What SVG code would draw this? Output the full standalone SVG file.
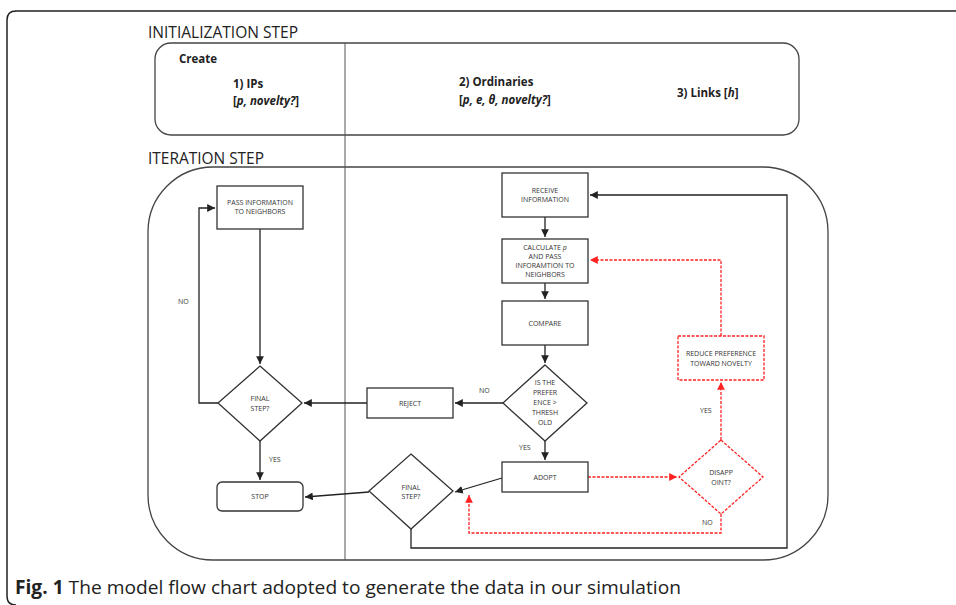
<svg xmlns="http://www.w3.org/2000/svg" width="956" height="605" viewBox="0 0 956 605">
<style>
text{font-family:"Open Sans","Liberation Sans",sans-serif;fill:#333}
.t{font-size:7px;text-anchor:middle}
.lb{font-size:7px}
.hd{font-size:16px;fill:#222}
.b{font-size:11.5px;font-weight:bold;fill:#222}
.n{fill:#fff;stroke:#333;stroke-width:1.3}
.r{fill:#fff;stroke:#f22;stroke-width:1.3;stroke-dasharray:3 1.5}
.c{fill:none;stroke:#222;stroke-width:1.3}
.cr{fill:none;stroke:#f22;stroke-width:1.3;stroke-dasharray:3 1.5}
.frame{fill:none;stroke:#444;stroke-width:1.3}
</style>
<defs>
<marker id="a" viewBox="0 0 10 10" refX="10" refY="5" markerWidth="6" markerHeight="6" orient="auto"><path d="M0,0L10,5L0,10z" fill="#222"/></marker>
<marker id="ar" viewBox="0 0 10 10" refX="10" refY="5" markerWidth="6" markerHeight="6" orient="auto"><path d="M0,0L10,5L0,10z" fill="#f22"/></marker>
</defs>
<rect width="956" height="605" fill="#fff"/>
<path d="M956,11H16Q7,11 7,20V596Q7,605 16,605" fill="none" stroke="#222" stroke-width="1.5"/>

<text class="hd" x="148" y="38" textLength="150" lengthAdjust="spacingAndGlyphs">INITIALIZATION STEP</text>
<text class="hd" x="148" y="164" textLength="116" lengthAdjust="spacingAndGlyphs">ITERATION STEP</text>

<g id="init">
<rect class="frame" x="155" y="43" width="644" height="92" rx="16"/>
<text class="b" x="179" y="63">Create</text>
<text class="b" x="233" y="88">1) IPs</text>
<text class="b" x="233" y="105">[<tspan font-style="italic">p, novelty?</tspan>]</text>
<text class="b" x="459" y="86">2) Ordinaries</text>
<text class="b" x="459" y="104">[<tspan font-style="italic">p, e, θ, novelty?</tspan>]</text>
<text class="b" x="677" y="97">3) Links [<tspan font-style="italic">h</tspan>]</text>
</g>

<g id="iteration">
<rect class="frame" x="148" y="167" width="680" height="393" rx="65"/>
</g>
<line x1="345" y1="43" x2="345" y2="560" stroke="#555" stroke-width="1"/>

<g id="connectors">
<path class="c" d="M260,229V364" marker-end="url(#a)"/>
<path class="c" d="M218,403H199V208H215" marker-end="url(#a)"/>
<path class="c" d="M260,441V480" marker-end="url(#a)"/>
<path class="c" d="M367,403H304" marker-end="url(#a)"/>
<path class="c" d="M503,403H455" marker-end="url(#a)"/>
<path class="c" d="M545,217V237" marker-end="url(#a)"/>
<path class="c" d="M545,283V299" marker-end="url(#a)"/>
<path class="c" d="M545,345V363" marker-end="url(#a)"/>
<path class="c" d="M545,441V460" marker-end="url(#a)"/>
<path class="c" d="M502,478L455,492" marker-end="url(#a)"/>
<path class="c" d="M369,492L305,497" marker-end="url(#a)"/>
<path class="c" d="M411,529V548H787V195H590" marker-end="url(#a)"/>
<path class="cr" d="M588,477H677" marker-end="url(#ar)"/>
<path class="cr" d="M721,440V382" marker-end="url(#ar)"/>
<path class="cr" d="M721,336V260H590" marker-end="url(#ar)"/>
<path class="cr" d="M721,514V533H469V495" marker-end="url(#ar)"/>
<text class="lb" x="178" y="304">NO</text>
<text class="lb" x="479" y="393">NO</text>
<text class="lb" x="519" y="450">YES</text>
<text class="lb" x="269" y="462">YES</text>
<text class="lb" x="700" y="413">YES</text>
<text class="lb" x="702" y="525">NO</text>
</g>

<g id="pass">
<rect class="n" x="217" y="186" width="86" height="43"/>
<text class="t" x="260" y="205">PASS INFORMATION</text>
<text class="t" x="260" y="214">TO NEIGHBORS</text>
</g>
<g id="final1">
<polygon class="n" points="260,366 302,403 260,441 218,403"/>
<text class="t" x="260" y="401">FINAL</text>
<text class="t" x="260" y="411">STEP?</text>
</g>
<g id="stop">
<rect class="n" x="217" y="482" width="86" height="29" rx="5"/>
<text class="t" x="260" y="499">STOP</text>
</g>
<g id="reject">
<rect class="n" x="367" y="388" width="86" height="30"/>
<text class="t" x="410" y="406">REJECT</text>
</g>
<g id="final2">
<polygon class="n" points="411,454 453,491 411,529 369,491"/>
<text class="t" x="411" y="490">FINAL</text>
<text class="t" x="411" y="499">STEP?</text>
</g>
<g id="receive">
<rect class="n" x="502" y="173" width="86" height="44"/>
<text class="t" x="545" y="193">RECEIVE</text>
<text class="t" x="545" y="202">INFORMATION</text>
</g>
<g id="calc">
<rect class="n" x="502" y="239" width="86" height="44"/>
<text class="t" x="545" y="250">CALCULATE <tspan font-style="italic">p</tspan></text>
<text class="t" x="545" y="259">AND PASS</text>
<text class="t" x="545" y="268">INFORAMTION  TO</text>
<text class="t" x="545" y="277">NEIGHBORS</text>
</g>
<g id="compare">
<rect class="n" x="502" y="301" width="86" height="44"/>
<text class="t" x="545" y="326">COMPARE</text>
</g>
<g id="threshold">
<polygon class="n" points="545,365 587,403 545,441 503,403"/>
<text class="t" x="545" y="385">IS THE</text>
<text class="t" x="545" y="395">PREFER</text>
<text class="t" x="545" y="405">ENCE &gt;</text>
<text class="t" x="545" y="415">THRESH</text>
<text class="t" x="545" y="425">OLD</text>
</g>
<g id="adopt">
<rect class="n" x="502" y="462" width="86" height="30"/>
<text class="t" x="545" y="480">ADOPT</text>
</g>
<g id="reduce">
<rect class="r" x="678" y="336" width="86" height="44"/>
<text class="t" x="721" y="356">REDUCE PREFERENCE</text>
<text class="t" x="721" y="366">TOWARD NOVELTY</text>
</g>
<g id="disappoint">
<polygon class="r" points="721,440 763,477 721,514 679,477"/>
<text class="t" x="721" y="475">DISAPP</text>
<text class="t" x="721" y="485">OINT?</text>
</g>

<text x="15" y="594" style="font-size:19px;fill:#222" textLength="666" lengthAdjust="spacingAndGlyphs"><tspan font-weight="bold">Fig. 1</tspan> The model flow chart adopted to generate the data in our simulation</text>
</svg>
